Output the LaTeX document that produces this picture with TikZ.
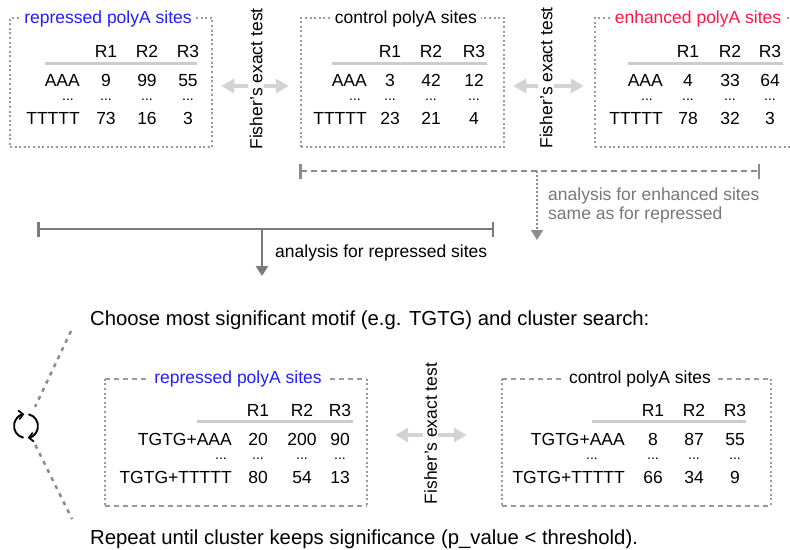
\documentclass[tikz,border=0pt]{standalone}
\usepackage{fontspec}
\setmainfont{Liberation Sans}
\usetikzlibrary{arrows.meta}
\definecolor{bluet}{HTML}{1F1FFF}
\definecolor{redt}{HTML}{FF1744}
\definecolor{boxgray}{HTML}{9A9A9A}
\definecolor{linegray}{HTML}{7A7A7A}
\definecolor{dashgray}{HTML}{8C8C8C}
\definecolor{fishgray}{HTML}{D3D3D3}
\definecolor{rulegray}{HTML}{CCCCCC}
\definecolor{textgray}{HTML}{777777}
\newcommand\tabrow[5]{%
  \node[rowlab] (#1l) at (#4,#2) {#3};
  \foreach \xx/\vv [count=\ii] in {#5} {\node[cell] (#1\ii) at (\xx,#2) {\vv};}
}
\newcommand\dotrow[4]{%
  \node[dotcell] (#1l) at (#3,#2) {...};
  \foreach \xx [count=\ii] in {#4} {\node[dotcell] (#1\ii) at (\xx,#2) {...};}
}
\begin{document}
\begin{tikzpicture}[x=1pt,y=-1pt,
  txt/.style={inner sep=0pt, font=\fontsize{17.5pt}{21pt}\selectfont},
  bigtxt/.style={inner sep=0pt, font=\fontsize{20.3pt}{24pt}\selectfont},
  cell/.style={txt, anchor=base},
  dotcell/.style={inner sep=0pt, anchor=base, font=\fontsize{14pt}{16pt}\selectfont},
  rowlab/.style={txt, anchor=base east},
  tbox/.style={draw=boxgray, line width=2.5pt, dash pattern=on 2pt off 2.6pt, minimum height=129pt, inner sep=0pt},
  bbox/.style={minimum height=127pt, inner sep=0pt},
  hdash/.style={draw=boxgray, line width=2.5pt, dash pattern=on 5pt off 4pt},
  vdot/.style={draw=boxgray, line width=2.5pt, dash pattern=on 2pt off 2.6pt},
  boxtitle/.style={txt, fill=white, inner xsep=4pt, inner ysep=1pt},
  rulel/.style={draw=rulegray, line width=3pt},
  fisher/.style={draw=fishgray, line width=4pt, {Triangle[length=13pt,width=14pt]}-{Triangle[length=13pt,width=14pt]}},
  fishertxt/.style={txt, rotate=90, fill=white, inner xsep=0pt, inner ysep=1.5pt},
  bracket/.style={draw=linegray, line width=2.5pt, {Bar[width=15pt]}-{Bar[width=15pt]}},
  dbracket/.style={draw=dashgray, line width=2pt, dash pattern=on 6pt off 4pt, {Bar[width=15pt,line width=2.5pt]}-{Bar[width=15pt,line width=2.5pt]}},
  downarr/.style={draw=linegray, line width=2.5pt, -{Triangle[length=10pt,width=12pt]}},
  dotarr/.style={draw=dashgray, line width=2pt, dash pattern=on 2pt off 2pt, -{Triangle[length=10pt,width=12pt]}},
  loopline/.style={draw=dashgray, line width=2.5pt, dash pattern=on 4pt off 5pt},
  looparc/.style={draw=black, line width=1.9pt, -{Straight Barb[length=4.5pt,width=9pt,line width=1.7pt]}}
]
\useasboundingbox (0,0) rectangle (790,549);
\clip (0,0) rectangle (790,549);

% ---------- top boxes ----------
\node[tbox, minimum width=202pt] (b1) at (111,82.5) {};
\node[tbox, minimum width=203pt] (b2) at (402.5,82.5) {};
\node[tbox, minimum width=205pt] (b3) at (697.5,82.5) {};
\node[boxtitle, text=bluet] (b1t) at (108,19) {repressed polyA sites};
\node[boxtitle] (b2t) at (406,19) {control polyA sites};
\node[boxtitle, text=redt] (b3t) at (698,19) {enhanced polyA sites};

% table 1
\foreach \xx/\vv [count=\ii] in {106/R1,147/R2,188/R3} {\node[cell] (b1h\ii) at (\xx,57) {\vv};}
\draw[rulel] (45,63) -- (197,63);
\tabrow{b1a}{86}{AAA}{80}{106/9,147/99,188/55}
\dotrow{b1d}{100.5}{68}{106,147,188}
\tabrow{b1t}{124}{TTTTT}{80}{106/73,147/16,188/3}

% table 2
\foreach \xx/\vv [count=\ii] in {390/R1,431/R2,474/R3} {\node[cell] (b2h\ii) at (\xx,57) {\vv};}
\draw[rulel] (332,63) -- (487,63);
\tabrow{b2a}{86}{AAA}{367}{390/3,431/42,474/12}
\dotrow{b2d}{100.5}{355}{390,431,474}
\tabrow{b2t}{124}{TTTTT}{367}{390/23,431/21,474/4}

% table 3
\foreach \xx/\vv [count=\ii] in {688/R1,730/R2,770/R3} {\node[cell] (b3h\ii) at (\xx,57) {\vv};}
\draw[rulel] (628,63) -- (783,63);
\tabrow{b3a}{86}{AAA}{663}{688/4,730/33,770/64}
\dotrow{b3d}{100.5}{647}{688,730,770}
\tabrow{b3t}{124}{TTTTT}{663}{688/78,730/32,770/3}

% Fisher arrows top
\draw[fisher, shorten <=8pt, shorten >=11pt] ([yshift=-3.5pt]b1.east) -- ([yshift=-3.5pt]b2.west);
\draw[fisher, shorten <=8pt, shorten >=10pt] ([yshift=-3.5pt]b2.east) -- ([yshift=-3.5pt]b3.west);
\node[fishertxt] (f1) at (256,79) {Fisher’s exact test};
\node[fishertxt] (f2) at (546,78) {Fisher’s exact test};

% ---------- brackets ----------
\coordinate (d1) at (299,171);
\coordinate (d2) at (760,171);
\coordinate (dm) at (537,171);
\coordinate (dt) at (537,240);
\draw[dbracket] (d1) -- (d2);
\draw[dotarr] (dm) -- (dt);
\node[txt, text=textgray, anchor=base west] (en1) at (548,200) {analysis for enhanced sites};
\node[txt, text=textgray, anchor=base west] (en2) at (548,219) {same as for repressed};

\coordinate (s1) at (37,229);
\coordinate (s2) at (494,229);
\coordinate (sm) at (262,229);
\coordinate (st) at (262,276);
\draw[bracket] (s1) -- (s2);
\draw[downarr] (sm) -- (st);
\node[txt, anchor=base west] (rep) at (275,257) {analysis for repressed sites};

% ---------- lower part ----------
\node[bigtxt, anchor=base west] (choose) at (90,325) {Choose most significant motif (e.g. TGTG) and cluster search:};
\node[bigtxt, anchor=base west] (repeat) at (90,544) {Repeat until cluster keeps significance (p\_value < threshold).};

\node[bbox, minimum width=262pt] (c1) at (236,442.5) {};
\node[bbox, minimum width=269pt] (c2) at (636.5,442.5) {};
\foreach \bx in {c1,c2} {
  \draw[hdash] (\bx.north west) -- (\bx.north east) (\bx.south west) -- (\bx.south east);
  \draw[vdot] (\bx.north west) -- (\bx.south west) (\bx.north east) -- (\bx.south east);
}
\node[boxtitle, text=bluet] (c1t) at (238,379) {repressed polyA sites};
\node[boxtitle] (c2t) at (640,379) {control polyA sites};

% table 4
\foreach \xx/\vv [count=\ii] in {258/R1,302/R2,340/R3} {\node[cell] (c1h\ii) at (\xx,416) {\vv};}
\draw[rulel] (197,421) -- (353,421);
\tabrow{c1a}{445}{TGTG+AAA}{232}{258/20,302/200,340/90}
\dotrow{c1d}{459.5}{221}{258,302,340}
\tabrow{c1t}{483}{TGTG+TTTTT}{232}{258/80,302/54,340/13}

% table 5
\foreach \xx/\vv [count=\ii] in {653/R1,694/R2,735/R3} {\node[cell] (c2h\ii) at (\xx,416) {\vv};}
\draw[rulel] (592,421) -- (746,421);
\tabrow{c2a}{445}{TGTG+AAA}{625}{653/8,694/87,735/55}
\dotrow{c2d}{459.5}{592}{653,694,735}
\tabrow{c2t}{483}{TGTG+TTTTT}{625}{653/66,694/34,735/9}

% Fisher bottom
\draw[fisher, shorten <=28pt, shorten >=35pt] ([yshift=7.5pt]c1.east) -- ([yshift=7.5pt]c2.west);
\node[fishertxt] (f3) at (430.5,433.5) {Fisher’s exact test};

% loop icon
\node[circle, minimum size=42pt, inner sep=0pt] (loop) at (26,426) {};
\begin{scope}[shift={(loop.center)}, x=1pt, y=1pt]
  \draw[looparc] (258:12pt) arc[start angle=258, end angle=98, radius=12pt];
  \draw[looparc] (78:12pt) arc[start angle=78, end angle=-82, radius=12pt];
\end{scope}
\coordinate (lu) at (71,331);
\coordinate (ll) at (72,519);
\draw[loopline] (lu) -- (loop);
\draw[loopline] (loop) -- (ll);
\end{tikzpicture}
\end{document}
